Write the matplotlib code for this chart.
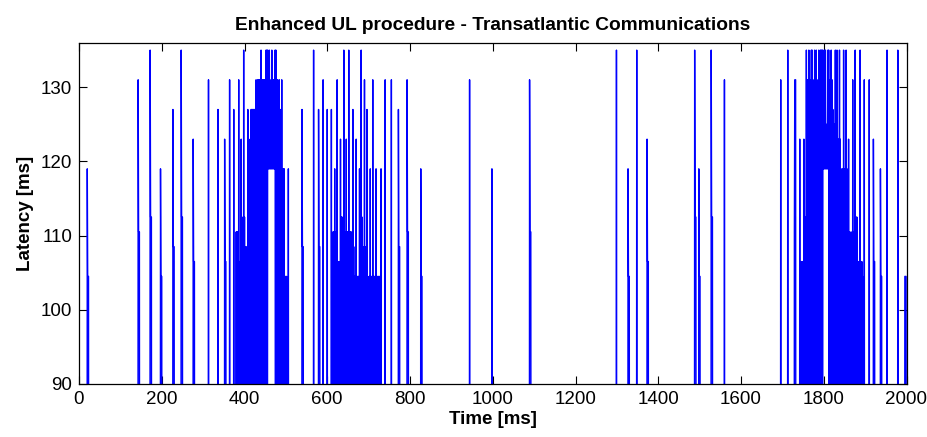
import numpy as np
import matplotlib
matplotlib.use("Agg")
import matplotlib.pyplot as plt

plt.rcParams['font.family'] = ['Liberation Sans', 'DejaVu Sans']

# isolated packets: send time (ms), latency, latency of the packets right after (0 = none)
spike_ms = [20, 143, 172, 197, 227, 247, 276, 313, 336, 352, 364, 374,
            539, 567, 579, 590, 600, 610, 740, 755, 772, 793, 826, 944,
            998, 1089, 1299, 1327, 1348, 1373, 1488, 1498, 1528, 1560,
            1696, 1713, 1729, 1910, 1920, 1937, 1953, 1979, 1996]
spike_peak = [119, 131, 135, 119, 127, 135, 123, 131, 127, 123, 131, 127,
              127, 135, 127, 131, 127, 127, 131, 131, 127, 131, 119, 131,
              119, 131, 135, 119, 135, 123, 135, 119, 135, 131,
              131, 135, 110.5, 131, 123, 119, 135, 135, 104.5]
spike_tail = [104.5, 110.5, 112.5, 104.5, 108.5, 112.5, 106.5, 0, 0, 106.5, 0, 0,
              108.5, 0, 108.5, 0, 0, 0, 0, 0, 108.5, 110.5, 104.5, 0,
              0, 110.5, 0, 104.5, 0, 106.5, 112.5, 104.5, 112.5, 0,
              0, 0, 131, 0, 106.5, 104.5, 0, 0, 104.5]
TAIL_SAMPLES = 3

# bursts, one (top, floor) pair every 2 ms from the start time
burst1_start = 380
burst1_top = [110.5, 110.5, 110.5, 131, 106.5, 106.5, 123, 112.5, 106.5, 135,
              112.5, 108.5, 108.5, 106.5, 127, 123, 106.5, 123, 127, 127,
              127, 127, 127, 127, 131, 119, 131, 131, 131, 131,
              135, 131, 131, 131, 131, 131, 135, 135, 135, 131,
              135, 125, 131, 135, 131, 131, 131, 135, 135, 131,
              131, 119, 131, 127, 119, 131, 119, 119, 119, 104.5,
              104.5, 104.5, 0, 119]
burst1_floor = [0] * 38 + [119] * 9 + [0] * 17

burst2_start = 614
burst2_top = [110.5, 110.5, 119, 110.5, 110.5, 131, 106.5, 106.5, 104.5, 123,
              112.5, 112.5, 0, 135, 110.5, 110.5, 123, 110.5, 110.5, 135,
              110.5, 110.5, 110.5, 108.5, 127, 108.5, 104.5, 104.5, 123, 104.5,
              104.5, 104.5, 119, 112.5, 135, 112.5, 108.5, 108.5, 131, 108.5,
              104.5, 127, 104.5, 0, 104.5, 119, 104.5, 104.5, 131, 104.5,
              104.5, 104.5, 119, 104.5, 104.5, 104.5, 104.5, 104.5, 119]
burst2_floor = [0] * 59

burst3_start = 1740
burst3_top = [0, 123, 0, 106.5, 106.5, 106.5, 123, 112.5, 112.5, 135,
              131, 131, 135, 110.5, 131, 135, 135, 131, 119, 135,
              127, 135, 127, 131, 135, 131, 135, 135, 135, 135,
              131, 135, 135, 125, 125, 135, 135, 131, 131, 135,
              131, 127, 125, 125, 135, 119, 135, 123, 123, 135,
              123, 119, 104.5, 119, 135, 119, 119, 135, 119, 110.5,
              123, 110.5, 108.5, 110.5, 0, 131, 110.5, 0, 135, 112.5,
              112.5, 0, 106.5, 106.5, 135, 0, 106.5, 104.5, 0, 131]
burst3_floor = [0] * 29 + [119] * 7 + [0] * 44


def build_latency():
    time = np.arange(0, 2001)
    latency = np.zeros(len(time))
    for t, peak, tail in zip(spike_ms, spike_peak, spike_tail):
        latency[t] = peak
        for k in range(1, TAIL_SAMPLES + 1):
            if t + k < len(time):
                latency[t + k] = tail
    bursts = [(burst1_start, burst1_top, burst1_floor),
              (burst2_start, burst2_top, burst2_floor),
              (burst3_start, burst3_top, burst3_floor)]
    for start, tops, floors in bursts:
        for k, (top, floor) in enumerate(zip(tops, floors)):
            latency[start + 2 * k] = top
            latency[start + 2 * k + 1] = floor
    return time, latency


time, latency = build_latency()

fig = plt.figure(figsize=(9.28, 4.37), dpi=100)
ax = fig.add_axes([79 / 928, 1 - 384 / 437, 827.5 / 928, 341.3 / 437])
ax.plot(time, latency, color='#0000ff', linewidth=1.0)

ax.set_xlim(0, 2000)
ax.set_ylim(90, 136)
ax.set_xticks(range(0, 2001, 200))
ax.set_yticks([90, 100, 110, 120, 130])
ax.tick_params(direction='in', length=6, width=0.8, top=True, right=True,
               labelsize=13.5, pad=5)
for spine in ax.spines.values():
    spine.set_linewidth(0.9)

ax.set_title("Enhanced UL procedure - Transatlantic Communications",
             fontsize=13.8, fontweight='bold', pad=9)
ax.set_xlabel("Time [ms]", fontsize=13.5, fontweight='bold', labelpad=2)
ax.set_ylabel("Latency [ms]", fontsize=13.5, fontweight='bold', labelpad=5)

fig.savefig("out.png", dpi=100)
